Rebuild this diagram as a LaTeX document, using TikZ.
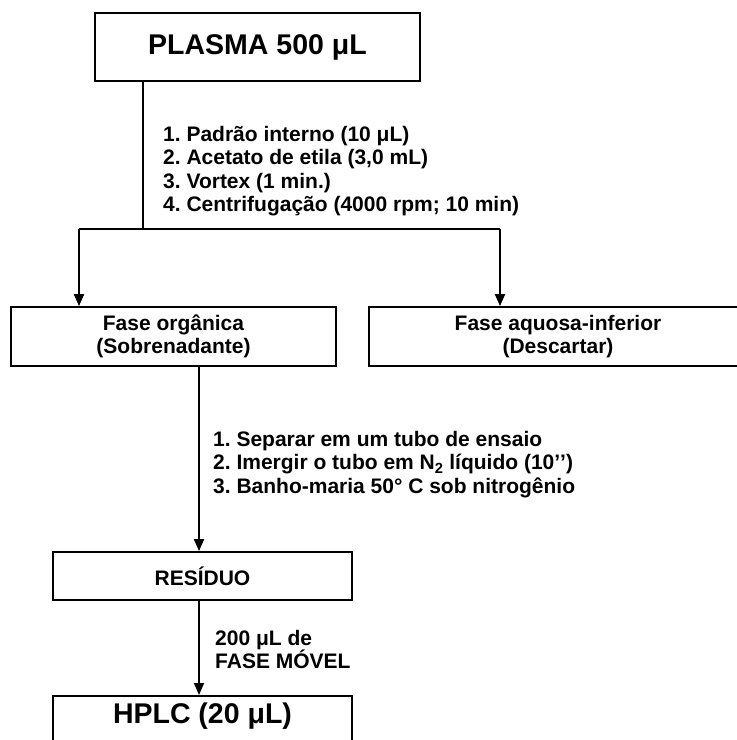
\documentclass[tikz,border=0pt]{standalone}
\usepackage{fontspec}
\setmainfont{Liberation Sans}
\usetikzlibrary{arrows.meta}
\frenchspacing
\begin{document}
\begin{tikzpicture}[x=1pt,y=-1pt,
  box/.style={draw,line width=1.8pt,inner sep=0pt,align=center},
  ln/.style={line width=1.8pt},
  arr/.style={line width=1.8pt,-{Triangle[length=12pt,width=10pt]}},
  lbl/.style={font=\fontsize{21}{23.5}\selectfont\bfseries\frenchspacing,align=left,inner sep=0pt},
  ttl/.style={font=\fontsize{28.5}{32}\selectfont\bfseries},
  sub/.style={font=\fontsize{21}{23.5}\selectfont\bfseries}]
\useasboundingbox (0,0) rectangle (737,740);
\clip (0,0) rectangle (737,740);
% boxes
\node[box,ttl,minimum width=325pt,minimum height=68pt] (plasma) at (257.5,47) {PLASMA 500 μL};
\node[box,sub,minimum width=325pt,minimum height=59pt] (org) at (173.5,336.5) {Fase orgânica\\(Sobrenadante)};
\node[box,sub,minimum width=378pt,minimum height=59pt] (aq) at (558,336.5) {Fase aquosa-inferior\\(Descartar)};
\node[box,sub,minimum width=299pt,minimum height=48pt] (res) at (202.5,576) {RESÍDUO};
\node[box,ttl,minimum width=299pt,text height=20pt,text depth=30pt,inner ysep=8pt,anchor=north] (hplc) at (202.5,695) {HPLC (20 μL)};
% texts
\node[lbl,anchor=north west] (s1) at (163,126) {1. Padrão interno (10 μL)\\2. Acetato de etila (3,0 mL)\\3. Vortex (1 min.)\\4. Centrifugação (4000 rpm; 10 min)};
\node[lbl,anchor=north west] (s2) at (213,431) {1. Separar em um tubo de ensaio\\2. Imergir o tubo em N\textsubscript{2} líquido (10’\kern0pt’)\\3. Banho-maria 50° C sob nitrogênio};
\node[lbl,anchor=north west] (s3) at (215,630) {200 μL de\\FASE MÓVEL};
% connectors
\coordinate (j) at (143,229);
\coordinate (jl) at (79,229);
\coordinate (jr) at (500,229);
\coordinate (cx) at (199,450);
\draw[ln] (plasma.south -| j) -- (j);
\draw[ln] (jl) -- (jr);
\draw[arr] (jl) -- (org.north -| jl);
\draw[arr] (jr) -- (aq.north -| jr);
\draw[arr] (org.south -| cx) -- (res.north -| cx);
\draw[arr] (res.south -| cx) -- (hplc.north -| cx);
\end{tikzpicture}
\end{document}
